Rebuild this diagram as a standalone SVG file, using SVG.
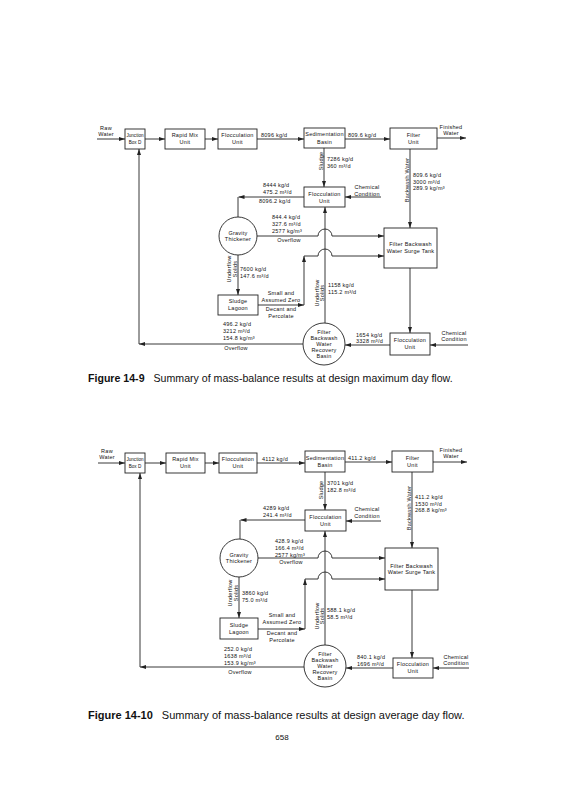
<svg xmlns="http://www.w3.org/2000/svg" width="565" height="800" viewBox="0 0 565 800">
<defs>
<style>
.box{fill:#fff;stroke:#222;stroke-width:0.9}
.ln{fill:none;stroke:#222;stroke-width:0.9}
.arr{marker-end:url(#ah)}
text{font-family:"Liberation Sans",Arial,sans-serif;font-size:5.5px;fill:#111;letter-spacing:0.25px}
.c{text-anchor:middle}
.j{font-size:4.6px;letter-spacing:0}
.cap{font-size:10.6px;letter-spacing:0}
.b{font-weight:bold}
</style>
<marker id="ah" viewBox="0 0 6 4" refX="6" refY="2" markerWidth="6" markerHeight="4" markerUnits="userSpaceOnUse" orient="auto"><path d="M0,0 L6,2 L0,4 z" fill="#222"/></marker>
</defs>
<rect width="565" height="800" fill="#fff"/>

<!-- ===== TOP DIAGRAM (Figure 14-9) ===== -->
<g id="t-raw"><text class="c" x="106" y="129.5">Raw</text><text class="c" x="106" y="135.5">Water</text></g>
<g id="t-junction"><rect class="box" x="125" y="129" width="20" height="20"/><text class="c j" x="135" y="137">Junction</text><text class="c j" x="135" y="144">Box D</text></g>
<g id="t-rapid"><rect class="box" x="165" y="129" width="40" height="20"/><text class="c" x="185" y="137">Rapid Mix</text><text class="c" x="185" y="144">Unit</text></g>
<g id="t-floc1"><rect class="box" x="218" y="129" width="39" height="20"/><text class="c" x="237.5" y="137">Flocculation</text><text class="c" x="237.5" y="144">Unit</text></g>
<g id="t-sed"><rect class="box" x="304" y="128" width="41" height="20"/><text class="c" x="324.5" y="136">Sedimentation</text><text class="c" x="324.5" y="143.5">Basin</text></g>
<g id="t-filter"><rect class="box" x="390" y="128" width="47" height="21"/><text class="c" x="413.5" y="136.5">Filter</text><text class="c" x="413.5" y="143.5">Unit</text></g>
<g id="t-finished"><text class="c" x="451" y="129">Finished</text><text class="c" x="451" y="135">Water</text></g>
<g id="t-floc2"><rect class="box" x="304" y="187" width="41" height="20"/><text class="c" x="324.5" y="195.5">Flocculation</text><text class="c" x="324.5" y="202.5">Unit</text></g>
<g id="t-chem1"><text class="c" x="367" y="189">Chemical</text><text class="c" x="367" y="195.5">Condition</text></g>
<g id="t-thickener"><circle class="box" cx="238" cy="236" r="19"/><text class="c" x="238" y="235">Gravity</text><text class="c" x="238" y="241">Thickener</text></g>
<g id="t-lagoon"><rect class="box" x="218" y="295" width="40" height="20"/><text class="c" x="238" y="303">Sludge</text><text class="c" x="238" y="310">Lagoon</text></g>
<g id="t-surge"><rect class="box" x="384" y="228" width="53" height="40"/><text class="c" x="410.5" y="246">Filter Backwash</text><text class="c" x="410.5" y="252.5">Water Surge Tank</text></g>
<g id="t-floc3"><rect class="box" x="390" y="333" width="40" height="22"/><text class="c" x="410" y="342">Flocculation</text><text class="c" x="410" y="349">Unit</text></g>
<g id="t-chem2"><text class="c" x="454" y="335">Chemical</text><text class="c" x="454" y="341">Condition</text></g>
<g id="t-recovery"><circle class="box" cx="324" cy="344" r="21"/><text class="c" x="324" y="333.6">Filter</text><text class="c" x="324" y="339.8">Backwash</text><text class="c" x="324" y="346">Water</text><text class="c" x="324" y="352.2">Recovery</text><text class="c" x="324" y="358.4">Basin</text></g>

<g id="t-connectors">
<path class="ln arr" d="M97,139 H125"/>
<path class="ln arr" d="M145,139 H165"/>
<path class="ln arr" d="M205,139 H218"/>
<path class="ln arr" d="M257,139 H304"/>
<path class="ln arr" d="M345,139 H390"/>
<path class="ln arr" d="M437,138 H466"/>
<path class="ln arr" d="M324,148 V187"/>
<path class="ln arr" d="M381,197 H345"/>
<path class="ln arr" d="M304,197 H238.5"/>
<path class="ln" d="M238,197 V217"/>
<path class="ln arr" d="M257,236 H318 A7,7 0 0 1 332,236 H384"/>
<path class="ln arr" d="M325,323 V207"/>
<path class="ln arr" d="M238,255 V295"/>
<path class="ln arr" d="M258,305 H304"/>
<path class="ln arr" d="M304,305 V256"/>
<path class="ln arr" d="M304,256 H318 A7,7 0 0 1 332,256 H384"/>
<path class="ln arr" d="M410,149 V228"/>
<path class="ln arr" d="M410,268 V333"/>
<path class="ln arr" d="M468,345 H430"/>
<path class="ln arr" d="M390,345 H345"/>
<path class="ln arr" d="M303,344 H139"/>
<path class="ln arr" d="M139,344 V149"/>
</g>
<g id="t-labels">
<text x="261" y="136.5">8096 kg/d</text>
<text x="348" y="136.5">809.6 kg/d</text>
<text class="c" transform="translate(322.5,161) rotate(-90)">Sludge</text>
<text x="327" y="161">7286 kg/d</text><text x="327" y="168">360 m³/d</text>
<text class="c" transform="translate(408.5,180) rotate(-90)">Backwash Water</text>
<text x="413" y="177">809.6 kg/d</text><text x="413" y="183.5">3000 m³/d</text><text x="413" y="190">289.9 kg/m³</text>
<text x="263" y="187">8444 kg/d</text><text x="263" y="194">475.2 m³/d</text><text x="259" y="203">8096.2 kg/d</text>
<text x="272" y="219">844.4 kg/d</text><text x="272" y="226">327.6 m³/d</text><text x="272" y="233">2577 kg/m³</text><text class="c" x="289" y="242">Overflow</text>
<text class="c" transform="translate(231,269) rotate(-90)">Underflow</text><text class="c" transform="translate(236.5,269) rotate(-90)">Solids</text>
<text x="240" y="271">7600 kg/d</text><text x="240" y="278">147.6 m³/d</text>
<text class="c" x="281" y="295">Small and</text><text class="c" x="281" y="302">Assumed Zero</text><text class="c" x="281" y="311">Decant and</text><text class="c" x="281" y="318">Percolate</text>
<text x="223" y="326">496.2 kg/d</text><text x="223" y="333">3212 m³/d</text><text x="223" y="340">154.8 kg/m³</text><text class="c" x="236" y="350">Overflow</text>
<text class="c" transform="translate(318.5,293) rotate(-90)">Underflow</text><text class="c" transform="translate(323.5,293) rotate(-90)">Solids</text>
<text x="328" y="287">1158 kg/d</text><text x="328" y="294">115.2 m³/d</text>
<text x="356" y="337">1654 kg/d</text><text x="356" y="343">3328 m³/d</text>
</g>
<text class="cap" x="88" y="382"><tspan class="b">Figure 14-9</tspan><tspan dx="9">Summary of mass-balance results at design maximum day flow.</tspan></text>

<!-- ===== BOTTOM DIAGRAM (Figure 14-10) ===== -->
<g id="b-raw"><text class="c" x="107" y="452.5">Raw</text><text class="c" x="107" y="458.5">Water</text></g>
<g id="b-junction"><rect class="box" x="125" y="453" width="20" height="20"/><text class="c j" x="135" y="461">Junction</text><text class="c j" x="135" y="468">Box D</text></g>
<g id="b-rapid"><rect class="box" x="166" y="453" width="39" height="20"/><text class="c" x="185.5" y="461">Rapid Mix</text><text class="c" x="185.5" y="468">Unit</text></g>
<g id="b-floc1"><rect class="box" x="219" y="453" width="38" height="20"/><text class="c" x="238" y="461">Flocculation</text><text class="c" x="238" y="468">Unit</text></g>
<g id="b-sed"><rect class="box" x="305" y="451" width="40" height="21"/><text class="c" x="325" y="459.5">Sedimentation</text><text class="c" x="325" y="466.5">Basin</text></g>
<g id="b-filter"><rect class="box" x="392" y="451" width="41" height="21"/><text class="c" x="412.5" y="459.5">Filter</text><text class="c" x="412.5" y="466.5">Unit</text></g>
<g id="b-finished"><text class="c" x="451" y="451.5">Finished</text><text class="c" x="451" y="457.5">Water</text></g>
<g id="b-floc2"><rect class="box" x="305" y="510" width="41" height="21"/><text class="c" x="325.5" y="518.5">Flocculation</text><text class="c" x="325.5" y="525.5">Unit</text></g>
<g id="b-chem1"><text class="c" x="367" y="511">Chemical</text><text class="c" x="367" y="517.5">Condition</text></g>
<g id="b-thickener"><circle class="box" cx="239" cy="558" r="19"/><text class="c" x="239" y="557">Gravity</text><text class="c" x="239" y="563">Thickener</text></g>
<g id="b-lagoon"><rect class="box" x="220" y="618" width="38" height="21"/><text class="c" x="239" y="626.5">Sludge</text><text class="c" x="239" y="633.5">Lagoon</text></g>
<g id="b-surge"><rect class="box" x="385" y="548" width="53" height="42"/><text class="c" x="411.5" y="567.5">Filter Backwash</text><text class="c" x="411.5" y="574">Water Surge Tank</text></g>
<g id="b-floc3"><rect class="box" x="393" y="658" width="40" height="20"/><text class="c" x="413" y="666">Flocculation</text><text class="c" x="413" y="673">Unit</text></g>
<g id="b-chem2"><text class="c" x="456" y="659">Chemical</text><text class="c" x="456" y="665">Condition</text></g>
<g id="b-recovery"><circle class="box" cx="325" cy="666" r="21"/><text class="c" x="325" y="655.6">Filter</text><text class="c" x="325" y="661.8">Backwash</text><text class="c" x="325" y="668">Water</text><text class="c" x="325" y="674.2">Recovery</text><text class="c" x="325" y="680.4">Basin</text></g>

<g id="b-connectors">
<path class="ln arr" d="M98,463 H125"/>
<path class="ln arr" d="M145,463 H166"/>
<path class="ln arr" d="M205,463 H219"/>
<path class="ln arr" d="M257,463 H305"/>
<path class="ln arr" d="M345,462 H392"/>
<path class="ln arr" d="M433,462 H467"/>
<path class="ln arr" d="M325,472 V510"/>
<path class="ln arr" d="M381,521 H346"/>
<path class="ln arr" d="M305,520 H240.5"/>
<path class="ln" d="M240,520 V539"/>
<path class="ln arr" d="M258,558 H318 A7,7 0 0 1 332,558 H385"/>
<path class="ln arr" d="M325,645 V531"/>
<path class="ln arr" d="M239,577 V618"/>
<path class="ln arr" d="M258,629 H305"/>
<path class="ln arr" d="M305,629 V579"/>
<path class="ln arr" d="M305,579 H318 A7,7 0 0 1 332,579 H385"/>
<path class="ln arr" d="M412,472 V548"/>
<path class="ln arr" d="M412,590 V658"/>
<path class="ln arr" d="M469,668 H433"/>
<path class="ln arr" d="M393,668 H346"/>
<path class="ln arr" d="M304,667 H140"/>
<path class="ln arr" d="M140,667 V473"/>
</g>
<g id="b-labels">
<text x="262" y="460.5">4112 kg/d</text>
<text x="348" y="459.5">411.2 kg/d</text>
<text class="c" transform="translate(323,490) rotate(-90)">Sludge</text>
<text x="327" y="485">3701 kg/d</text><text x="327" y="492">182.8 m³/d</text>
<text class="c" transform="translate(410.5,508) rotate(-90)">Backwash Water</text>
<text x="415" y="499">411.2 kg/d</text><text x="415" y="505.5">1530 m³/d</text><text x="415" y="512">268.8 kg/m³</text>
<text x="263" y="510">4289 kg/d</text><text x="263" y="517">241.4 m³/d</text>
<text x="275" y="543">428.9 kg/d</text><text x="275" y="550">166.4 m³/d</text><text x="275" y="557">2577 kg/m³</text><text class="c" x="291" y="564">Overflow</text>
<text class="c" transform="translate(232,593) rotate(-90)">Underflow</text><text class="c" transform="translate(237.5,593) rotate(-90)">Solids</text>
<text x="242" y="595">3860 kg/d</text><text x="242" y="602">75.0 m³/d</text>
<text class="c" x="282" y="617">Small and</text><text class="c" x="282" y="624">Assumed Zero</text><text class="c" x="282" y="635">Decant and</text><text class="c" x="282" y="642">Percolate</text>
<text x="224" y="651">252.0 kg/d</text><text x="224" y="658">1638 m³/d</text><text x="224" y="665">153.9 kg/m³</text><text class="c" x="240" y="674">Overflow</text>
<text class="c" transform="translate(318.5,616) rotate(-90)">Underflow</text><text class="c" transform="translate(323.5,616) rotate(-90)">Solids</text>
<text x="327" y="612">588.1 kg/d</text><text x="327" y="619">58.5 m³/d</text>
<text x="357" y="659">840.1 kg/d</text><text x="357" y="665.5">1696 m³/d</text>
</g>
<text class="cap" x="88" y="719" style="font-size:11px"><tspan class="b">Figure 14-10</tspan><tspan dx="9">Summary of mass-balance results at design average day flow.</tspan></text>
<text class="c" x="282" y="740" style="font-size:8px;letter-spacing:0">658</text>
</svg>
